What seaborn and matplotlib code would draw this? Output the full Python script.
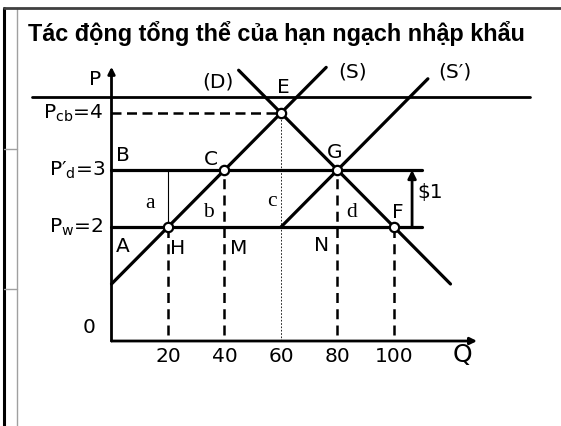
import matplotlib
matplotlib.use("Agg")
import matplotlib.pyplot as plt
from matplotlib.lines import Line2D
import pandas as pd
import seaborn as sns

# Curves of the import-quota diagram (quantity Q, price P)
supply_q = [0, 76]
supply_p = [1, 4.8]
demand_q = [45, 120]
demand_p = [4.75, 1]
quota_supply_q = [60, 112]
quota_supply_p = [2, 4.6]

# Price levels
world_price = 2
domestic_price = 3
closed_price = 4

# Marked points
point_names = ["E", "C", "G", "H", "F"]
point_q = [60, 40, 80, 20, 100]
point_p = [4, 3, 3, 2, 2]

quantity_ticks = [20, 40, 60, 80, 100]
price_line_end = 110

sns.set_theme(style="white")
plt.rcParams["font.family"] = ["DejaVu Sans"]
plt.rcParams["mathtext.default"] = "regular"
plt.rcParams["text.color"] = "black"

W, H = 561, 426
fig = plt.figure(figsize=(W / 100, H / 100), dpi=100)
ax = fig.add_axes([0, 0, 1, 1])
ax.set_xlim(-39.47, 159.12)
ax.set_ylim(-1.491, 5.982)
ax.axis("off")

# slide frame
fig.add_artist(Line2D([4 / W, 4 / W], [0, 1 - 8 / H], color="black", lw=2.2))
fig.add_artist(Line2D([17 / W, 17 / W], [0, 1 - 8 / H], color="#a0a0a0", lw=1))
fig.add_artist(Line2D([4 / W, 1], [1 - 8 / H, 1 - 8 / H], color="#404040", lw=2))
for yy in (149, 289):
    fig.add_artist(Line2D([4 / W, 17 / W], [1 - yy / H] * 2, color="#a0a0a0", lw=1))
fig.add_artist(Line2D([32 / W, 530 / W], [1 - 97 / H] * 2, color="black", lw=2))

fig.text(276 / W, 1 - 33 / H, "Tác động tổng thể của hạn ngạch nhập khẩu",
         ha="center", va="center", fontsize=16.8, fontweight="bold",
         family="Liberation Sans", color="black")

# axes with arrows
ax.annotate("", xy=(0, 4.81), xytext=(0, 0),
            arrowprops=dict(arrowstyle="-|>", color="black", lw=2,
                            mutation_scale=10, shrinkA=0, shrinkB=0))
ax.annotate("", xy=(129.4, 0), xytext=(0, 0),
            arrowprops=dict(arrowstyle="-|>", color="black", lw=2,
                            mutation_scale=10, shrinkA=0, shrinkB=0))

curves = pd.DataFrame({
    "Q": supply_q + demand_q + quota_supply_q,
    "P": supply_p + demand_p + quota_supply_p,
    "curve": ["S"] * 2 + ["D"] * 2 + ["S'"] * 2,
})
sns.lineplot(data=curves, x="Q", y="P", units="curve", estimator=None,
             color="black", lw=2.3, ax=ax, legend=False, zorder=3)

# price lines
prices = pd.DataFrame({
    "Q": [0, price_line_end, 0, price_line_end],
    "P": [domestic_price] * 2 + [world_price] * 2,
    "level": ["d", "d", "w", "w"],
})
sns.lineplot(data=prices, x="Q", y="P", units="level", estimator=None,
             color="black", lw=2.3, ax=ax, legend=False, zorder=3)

# closed-economy price guide
ax.plot([0, point_q[0]], [closed_price, closed_price], color="black",
        lw=1.8, ls=(0, (4, 2.2)), zorder=2)
# dotted guide under E
ax.plot([point_q[0], point_q[0]], [0, closed_price], color="black",
        lw=0.6, ls=(0, (2, 2)), zorder=2)
# dashed drops to the Q axis
for q, p in zip(point_q[1:], point_p[1:]):
    ax.plot([q, q], [0.1, p], color="black", lw=1.8, ls=(0, (4, 2.5)), zorder=2)
# thin divider between areas a and b
ax.plot([point_q[3], point_q[3]], [world_price, domestic_price],
        color="black", lw=0.8, zorder=2)

# $1 tariff-equivalent arrow
ax.annotate("", xy=(106.4, domestic_price), xytext=(106.4, world_price),
            arrowprops=dict(arrowstyle="-|>", color="black", lw=2,
                            mutation_scale=12, shrinkA=0, shrinkB=0))

sns.scatterplot(x=point_q, y=point_p, s=45, color="white", edgecolor="black",
                linewidth=1.6, ax=ax, zorder=5, legend=False)

fs = 14.5
txt = dict(fontsize=fs, ha="center", va="center", color="black")
ax.text(-5.8, 4.58, "P", **txt)
ax.text(-3, closed_price, "P$_{cb}$=4", fontsize=fs, ha="right", va="center")
ax.text(-2.3, domestic_price, "P′$_{d}$=3", fontsize=fs, ha="right", va="center")
ax.text(-3, world_price, "P$_{w}$=2", fontsize=fs, ha="right", va="center")
ax.text(-8, 0.23, "0", **txt)

for label, q, p in [("B", 4.1, 3.26), ("A", 4.1, 1.65), ("H", 23.5, 1.63),
                    ("M", 45.1, 1.63), ("N", 74.5, 1.68), ("C", 35.2, 3.19),
                    ("G", 79.1, 3.3), ("F", 101.4, 2.25), ("E", 60.7, 4.44),
                    ("$1", 112.7, 2.6), ("(D)", 37.7, 4.54), ("(S)", 85.5, 4.72),
                    ("(S′)", 121.6, 4.72)]:
    ax.text(q, p, label.replace("$", r"\$"), **txt)

serif = dict(fontsize=15.5, ha="center", va="center", family="Liberation Serif",
             color="black")
for label, q, p in [("a", 13.6, 2.42), ("b", 34.2, 2.25),
                    ("c", 56.8, 2.44), ("d", 85.1, 2.25)]:
    ax.text(q, p, label, **serif)

for q in quantity_ticks:
    ax.text(q, -0.28, str(q), **txt)
ax.text(124.4, -0.25, "Q", fontsize=18, ha="center", va="center")

fig.savefig("out.png", dpi=100)
